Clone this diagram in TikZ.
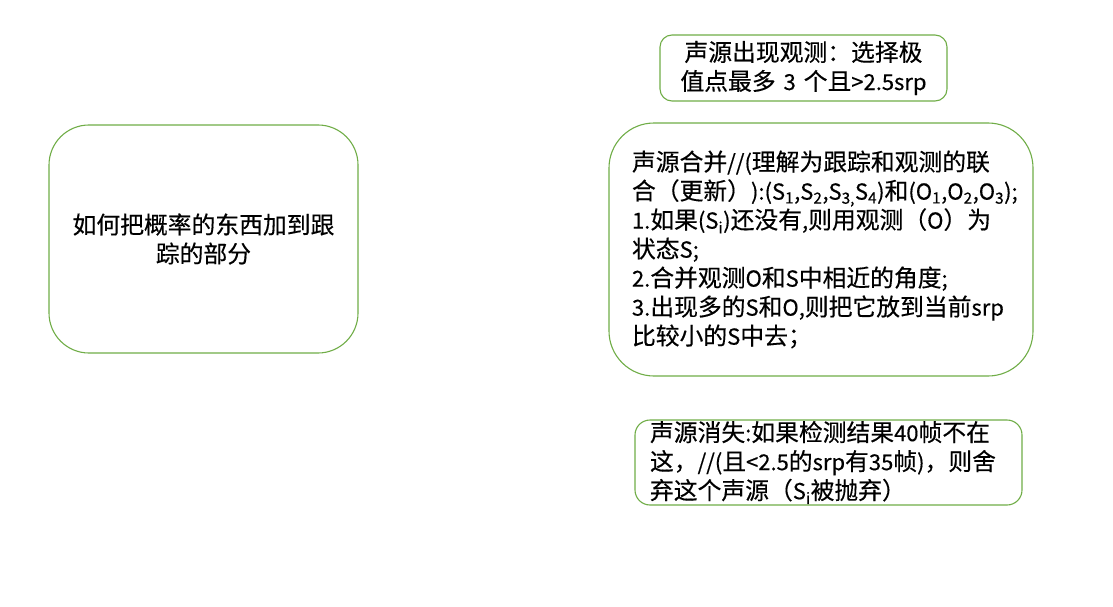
\documentclass[tikz,border=0pt]{standalone}
\usepackage{fontspec}
\setmainfont{Noto Sans CJK SC}[FakeBold=0.35]
\usepackage{tikz}
\definecolor{boxline}{HTML}{70AD47}
\newcommand\en[1]{{\fontsize{22pt}{29pt}\selectfont #1}}

\begin{document}
\begin{tikzpicture}[x=1pt,y=1pt,
  box/.style={draw=boxline,line width=1.1pt,fill=white,inner sep=0pt,font=\fontsize{23.8pt}{29pt}\selectfont},
  plain/.style={box,align=center},
  listbox/.style={box,align=left}
]
\useasboundingbox (0,0) rectangle (1113,-607);
\node[plain,rounded corners=40pt,minimum width=309pt,minimum height=228pt,text width=290pt] (prob) at (203.5,-239)
  {如何把概率的东西加到跟\\踪的部分};
\node[plain,rounded corners=12pt,minimum width=287pt,minimum height=66pt,text width=275pt] (appear) at (803.5,-68)
  {声源出现观测：选择极\\值点最多\en{ 3 }个且\en{>2.5srp}};
\node[listbox,rounded corners=45pt,minimum width=424pt,minimum height=253pt,text width=378pt] (merge) at (821,-249.5)
  {声源合并\en{//(}理解为跟踪和观测的联\\
   合（更新）\en{):(S\textsubscript{1},S\textsubscript{2},S\textsubscript{3,}S\textsubscript{4})}和\en{(O\textsubscript{1},O\textsubscript{2},O\textsubscript{3});}\\
   \en{1.}如果\en{(S\textsubscript{i})}还没有\en{,}则用观测（\en{O}）为\\
   状态\en{S;}\\
   \en{2.}合并观测\en{O}和\en{S}中相近的角度\en{;}\\
   \en{3.}出现多的\en{S}和\en{O,}则把它放到当前\en{srp}\\
   比较小的\en{S}中去；};
\node[listbox,rounded corners=15pt,minimum width=387pt,minimum height=85pt,text width=357pt] (vanish) at (828.5,-462.5)
  {声源消失\en{:}如果检测结果\en{40}帧不在\\
   这，\en{//(}且\en{<2.5}的\en{srp}有\en{35}帧\en{)}，则舍\\
   弃这个声源（\en{S\textsubscript{i}}被抛弃）};
\end{tikzpicture}
\end{document}
